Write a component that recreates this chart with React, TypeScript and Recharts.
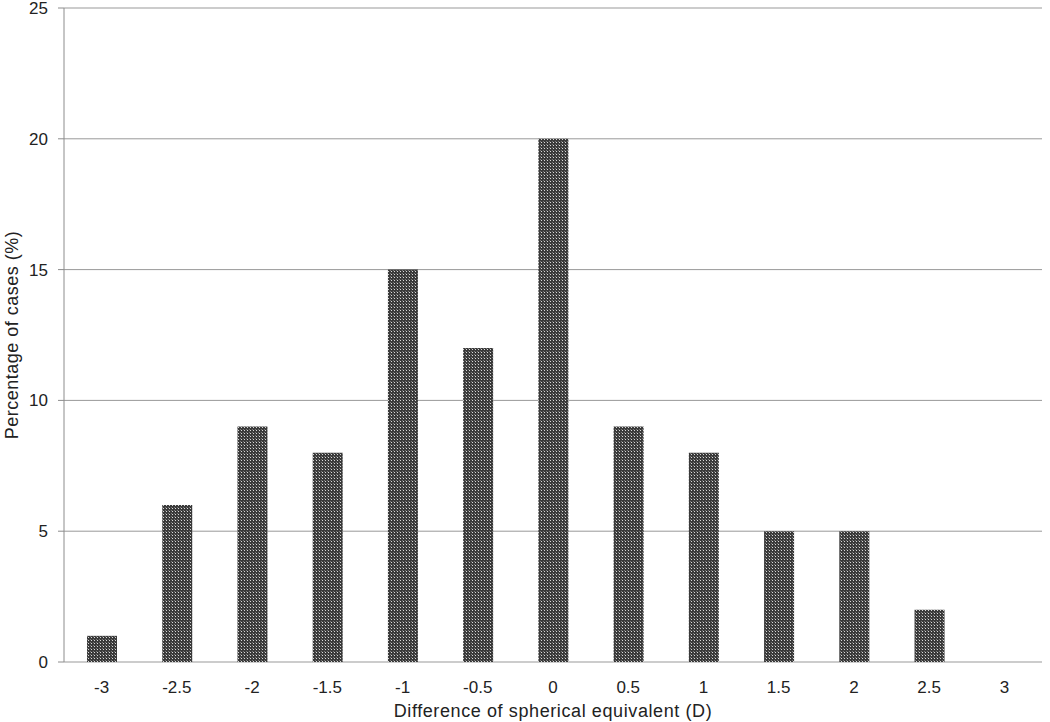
import React from 'react';
import { BarChart, Bar, XAxis, YAxis, CartesianGrid, Label } from 'recharts';

const categories = ['-3', '-2.5', '-2', '-1.5', '-1', '-0.5', '0', '0.5', '1', '1.5', '2', '2.5', '3'];
const percentages = [1, 6, 9, 8, 15, 12, 20, 9, 8, 5, 5, 2, 0];
const yTicks = [0, 5, 10, 15, 20, 25];
const boundaryTicks = [0, 1, 2, 3, 4, 5, 6, 7, 8, 9, 10, 11, 12, 13];

const data = categories.map((c, i) => ({ cat: c, value: percentages[i] }));

const FONT = '"Liberation Sans", Arial, sans-serif';
const AXIS = '#8c8c8c';

export default function App() {
  return (
    <div style={{ position: 'absolute', left: 0, top: 0, width: 1050, height: 722, background: '#fff' }}>
      <BarChart
        width={1050}
        height={722}
        data={data}
        margin={{ top: 8, right: 8, left: 0, bottom: 0 }}
        barCategoryGap={0}
      >
        <defs>
          <pattern id="dots" patternUnits="userSpaceOnUse" width="3" height="3">
            <rect x="0" y="0" width="3" height="3" fill="#3a3a3a" />
            <rect x="1" y="1" width="1" height="1" fill="#d8d8d8" />
            <rect x="0" y="0" width="1" height="1" fill="#777" />
          </pattern>
        </defs>
        <CartesianGrid horizontal={true} vertical={false} stroke="#999" strokeWidth={1} />
        <XAxis
          xAxisId="ticks"
          type="number"
          domain={[0, 13]}
          ticks={boundaryTicks}
          tick={false}
          tickLine={{ stroke: AXIS }}
          tickSize={6}
          axisLine={{ stroke: AXIS }}
          height={0}
          allowDataOverflow
        />
        <XAxis
          dataKey="cat"
          xAxisId="cat"
          tickLine={false}
          axisLine={false}
          tickMargin={13}
          height={60}
          interval={0}
          tick={{ fill: '#222', fontSize: 17, fontFamily: FONT }}
        >
          <Label
            value="Difference of spherical equivalent (D)"
            position="insideBottom"
            offset={5}
            style={{ fill: '#222', fontSize: 18, fontFamily: FONT, letterSpacing: 0.6 }}
          />
        </XAxis>
        <YAxis
          width={64}
          domain={[0, 25]}
          ticks={yTicks}
          interval={0}
          tickSize={6}
          tickMargin={10}
          tickLine={{ stroke: AXIS }}
          axisLine={{ stroke: AXIS }}
          tick={{ fill: '#222', fontSize: 17, fontFamily: FONT }}
          label={{
            content: (props: any) => {
              const vb = props.viewBox || {};
              const cx = (vb.x || 0) + 12;
              const cy = (vb.y || 0) + (vb.height || 0) / 2;
              return (
                <text
                  x={cx}
                  y={cy}
                  transform={`rotate(-90 ${cx} ${cy})`}
                  textAnchor="middle"
                  dominantBaseline="central"
                  fill="#222"
                  fontSize={18}
                  fontFamily={FONT}
                  letterSpacing={0.5}
                >
                  Percentage of cases (%)
                </text>
              );
            },
          }}
        />
        <Bar
          dataKey="value"
          xAxisId="cat"
          fill="url(#dots)"
          barSize={30}
          isAnimationActive={false}
        />
      </BarChart>
    </div>
  );
}
